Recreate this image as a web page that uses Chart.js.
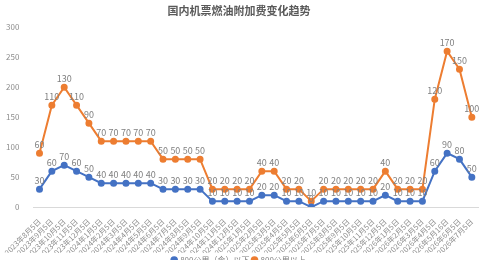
<!DOCTYPE html>
<html>
<head>
<meta charset="utf-8">
<script src="https://cdn.jsdelivr.net/npm/chart.js@4"></script>
<style>
  html, body { margin: 0; padding: 0; background: #fff; overflow: hidden; }
  #wrap { width: 500px; height: 274px; }
</style>
</head>
<body>
<div id="wrap"><canvas id="fuelChart"></canvas></div>
<script>
var months = [
  '2023年8月5日', '2023年9月5日', '2023年10月5日', '2023年11月5日', '2023年12月5日',
  '2024年1月5日', '2024年2月5日', '2024年3月5日', '2024年4月5日', '2024年5月5日',
  '2024年6月5日', '2024年7月5日', '2024年8月5日', '2024年9月5日', '2024年10月5日',
  '2024年11月5日', '2024年12月5日', '2025年1月5日', '2025年2月5日', '2025年3月5日',
  '2025年4月5日', '2025年5月5日', '2025年6月5日', '2025年7月5日', '2025年8月5日',
  '2025年9月5日', '2025年10月5日', '2025年11月5日', '2025年12月5日', '2026年1月5日',
  '2026年2月5日', '2026年3月5日', '2026年4月5日', '2026年5月16日', '2026年6月5日',
  '2026年7月5日'
];
// 800公里（含）以下
var shortHaul = [30, 60, 70, 60, 50, 40, 40, 40, 40, 40, 30, 30, 30, 30, 10, 10, 10, 10, 20, 20,
  10, 10, 0, 10, 10, 10, 10, 10, 20, 10, 10, 10, 60, 90, 80, 50];
// 800公里以上 (stacked on top)
var longHaul = [60, 110, 130, 110, 90, 70, 70, 70, 70, 70, 50, 50, 50, 50, 20, 20, 20, 20, 40, 40,
  20, 20, 10, 20, 20, 20, 20, 20, 40, 20, 20, 20, 120, 170, 150, 100];
var yMax = 300;
var yStep = 50;

var fontFamily = "'Noto Sans CJK SC', 'Noto Sans', sans-serif";

// value labels above each point
var valueLabels = {
  id: 'valueLabels',
  afterDatasetsDraw: function(chart) {
    var c = chart.ctx;
    c.save();
    c.font = '9px ' + fontFamily;
    c.fillStyle = '#808080';
    c.textAlign = 'center';
    c.textBaseline = 'bottom';
    chart.data.datasets.forEach(function(ds, i) {
      var meta = chart.getDatasetMeta(i);
      meta.data.forEach(function(pt, j) {
        c.fillText(String(ds.data[j]), pt.x, pt.y - 4);
      });
    });
    c.restore();
  }
};

var ctx = document.getElementById('fuelChart').getContext('2d');
var fuelChart = new Chart(ctx, {
  type: 'line',
  data: {
    labels: months,
    datasets: [{
      label: '800公里（含）以下',
      data: shortHaul,
      borderColor: '#4472C4',
      backgroundColor: '#4472C4',
      borderWidth: 2,
      pointRadius: 2.5,
      tension: 0
    }, {
      label: '800公里以上',
      data: longHaul,
      borderColor: '#ED7D31',
      backgroundColor: '#ED7D31',
      borderWidth: 2,
      pointRadius: 2.5,
      tension: 0
    }]
  },
  options: {
    responsive: true,
    maintainAspectRatio: false,
    animation: false,
    layout: { padding: { left: 0, right: 22, top: 0, bottom: 0 } },
    plugins: {
      title: {
        display: true,
        text: '国内机票燃油附加费变化趋势',
        color: '#595959',
        font: { family: fontFamily, size: 11, weight: 'bold' },
        padding: { top: 4, bottom: 10 }
      },
      legend: {
        position: 'bottom',
        labels: {
          color: '#808080',
          font: { family: fontFamily, size: 8 },
          usePointStyle: true,
          pointStyle: 'circle',
          boxWidth: 4,
          boxHeight: 4,
          padding: 3
        }
      },
      tooltip: { enabled: false }
    },
    scales: {
      x: {
        offset: true,
        grid: { display: false },
        border: { display: true, color: '#d9d9d9' },
        ticks: {
          autoSkip: false,
          maxRotation: 45,
          minRotation: 45,
          color: '#8c8c8c',
          padding: 2,
          font: { family: fontFamily, size: 7.5 }
        },
        afterFit: function(scale) {
          scale.height -= 9;
        }
      },
      y: {
        stacked: true,
        min: 0,
        max: yMax,
        grid: { display: false },
        border: { display: false },
        ticks: {
          stepSize: yStep,
          color: '#8c8c8c',
          padding: 6,
          font: { family: fontFamily, size: 8 }
        }
      }
    }
  },
  plugins: [valueLabels]
});
</script>
</body>
</html>
